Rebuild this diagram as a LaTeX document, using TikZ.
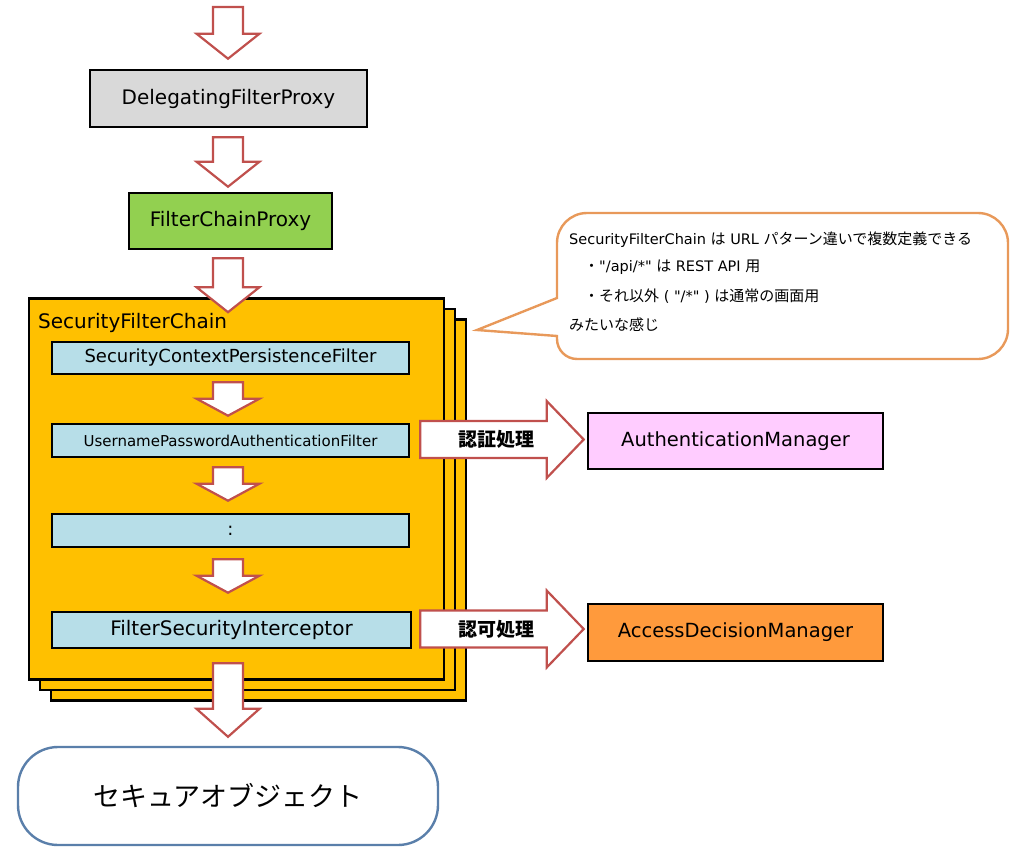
\documentclass[tikz,border=0pt]{standalone}
\usepackage{fontspec}
\setmainfont{DejaVu Sans}
\newfontfamily\dv{DejaVu Sans}
\newfontfamily\cjk{Noto Sans CJK JP}
\usetikzlibrary{calc}
\definecolor{arrowred}{HTML}{C0504D}
\definecolor{dfpgray}{HTML}{D9D9D9}
\definecolor{fcpgreen}{HTML}{92D050}
\definecolor{stackorange}{HTML}{FFC000}
\definecolor{filterblue}{HTML}{B7DEE8}
\definecolor{ampink}{HTML}{FFCCFF}
\definecolor{admorange}{HTML}{FF9A3C}
\definecolor{calloutorange}{HTML}{E8995A}
\definecolor{objblue}{HTML}{5A7FAA}
\newcommand\jtext[1]{{\cjk\fontsize{15}{18}\selectfont #1}}
% vertical block arrow: start coordinate, tip coordinate, head length
\newcommand\varrow[3]{%
  \draw[barrow] let \p1=#1, \p2=#2 in
    (\x1-15pt,\y1) -- (\x1+15pt,\y1) -- (\x1+15pt,\y2+#3pt) -- (\x1+31.5pt,\y2+#3pt)
    -- (\x1,\y2) -- (\x1-31.5pt,\y2+#3pt) -- (\x1-15pt,\y2+#3pt) -- cycle;}
% horizontal block arrow: start coordinate, tip coordinate, label
\newcommand\harrow[3]{%
  \draw[barrow] let \p1=#1, \p2=#2 in
    (\x1,\y1+18.5pt) -- (\x2-37pt,\y1+18.5pt) -- (\x2-37pt,\y1+38.5pt) -- (\x2,\y1)
    -- (\x2-37pt,\y1-38.5pt) -- (\x2-37pt,\y1-18.5pt) -- (\x1,\y1-18.5pt) -- cycle
    ({\x1+76pt},\y1) node[font={\cjk\bfseries\fontsize{19}{22}\selectfont}] {#3};}
\begin{document}
\begin{tikzpicture}[x=1pt,y=-1pt,
  box/.style={draw=black, line width=2.6pt, inner sep=0pt, text=black},
  stackbox/.style={box, fill=stackorange, minimum width=415pt, minimum height=381pt},
  filterbox/.style={box, fill=filterblue, minimum width=357pt},
  barrow/.style={draw=arrowred, fill=white, line width=2.2pt, line join=miter},
  ctext/.style={anchor=west, inner sep=0pt, text=black, font=\dv\fontsize{14.5}{17}\selectfont},
  latin20/.style={font=\fontsize{20}{24}\selectfont}]
\useasboundingbox (0,0) rectangle (1020,859);

% top boxes
\node[box, fill=dfpgray, minimum width=277pt, minimum height=57pt, latin20] (dfp) at (228.5,98.5) {DelegatingFilterProxy};
\node[box, fill=fcpgreen, minimum width=203pt, minimum height=56pt, latin20] (fcp) at (230.5,221) {FilterChainProxy};

% stack of SecurityFilterChain
\node[stackbox] (sfc3) at (258.5,510) {};
\node[stackbox] (sfc2) at (247.5,499.5) {};
\node[stackbox] (sfc) at (236.5,489) {};
\node[anchor=west, inner sep=0pt, latin20] (sfclabel) at (38,323) {SecurityFilterChain};

% filters
\node[filterbox, minimum height=32pt, font=\fontsize{18}{22}\selectfont] (scpf) at (230.5,358) {SecurityContextPersistenceFilter};
\node[filterbox, minimum height=33pt, font=\fontsize{15}{18}\selectfont] (upaf) at (230.5,440.5) {UsernamePasswordAuthenticationFilter};
\node[filterbox, minimum height=33pt, font=\fontsize{18}{22}\selectfont] (dots) at (230.5,530.5) {:};
\node[filterbox, minimum width=359pt, minimum height=36pt, latin20] (fsi) at (231.5,630) {FilterSecurityInterceptor};

% managers
\node[box, fill=ampink, minimum width=295pt, minimum height=56pt, font=\fontsize{19.5}{23}\selectfont] (am) at (735.5,441) {AuthenticationManager};
\node[box, fill=admorange, minimum width=295pt, minimum height=57pt, font=\fontsize{19.5}{23}\selectfont] (adm) at (735.5,632.5) {AccessDecisionManager};

% secure object
\node[draw=objblue, line width=2.4pt, fill=white, rounded corners=40pt, minimum width=420pt, minimum height=98pt, font={\cjk\fontsize{27}{32}\selectfont}] (obj) at (228,796) {セキュアオブジェクト};

% callout
\draw[draw=calloutorange, fill=white, line width=2.4pt]
  (477,330) -- (557,298) [rounded corners=30pt] -- (557,213) -- (1008,213) -- (1008,359)
  [rounded corners=20pt] -- (557,359) [sharp corners] -- (557,336) -- cycle;
\node[ctext] (c1) at (569,240) {SecurityFilterChain \jtext{は} URL \jtext{パターン違いで複数定義できる}};
\node[ctext] (c2) at (584,267) {\jtext{・}"/api/*" \jtext{は} REST API \jtext{用}};
\node[ctext] (c3) at (584,296) {\jtext{・それ以外} ( "/*" ) \jtext{は通常の画面用}};
\node[ctext] (c4) at (569,325) {\jtext{みたいな感じ}};

% block arrows
\coordinate (entry) at (228,7);
\varrow{(entry)}{($(dfp.north)+(0,-10)$)}{25}
\varrow{($(dfp.south)+(-0.5,9)$)}{($(fcp.north)+(0,-5)$)}{25}
\varrow{($(fcp.south)+(-2.5,8)$)}{($(sfc.north)+(0,15)$)}{25}
\varrow{($(scpf.south)+(-2.5,7)$)}{($(upaf.north)+(0,-7)$)}{17}
\varrow{($(upaf.south)+(-2.5,9)$)}{($(dots.north)+(0,-12)$)}{17}
\varrow{($(dots.south)+(-2.5,11)$)}{($(fsi.north)+(0,-18)$)}{17}
\varrow{($(fsi.south)+(-3.5,14)$)}{($(obj.north)+(0,-9)$)}{28}
\harrow{($(upaf.east)+(10,-1)$)}{($(am.west)+(-3,0)$)}{認証処理}
\harrow{($(fsi.east)+(8,-1)$)}{($(adm.west)+(-3,0)$)}{認可処理}
\end{tikzpicture}
\end{document}
